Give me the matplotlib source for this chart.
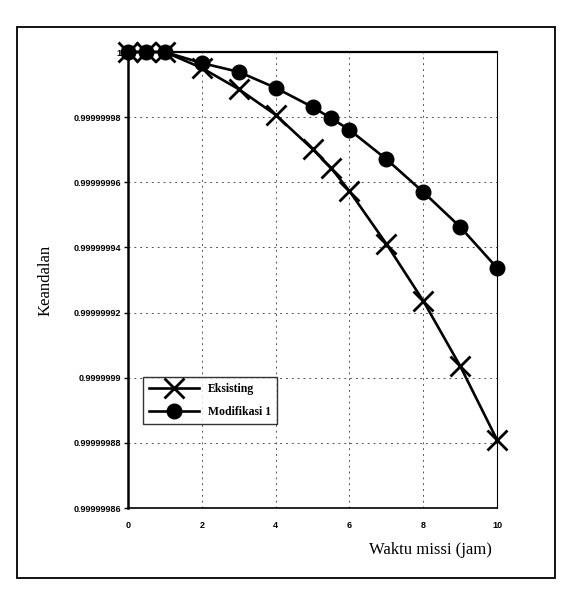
import matplotlib
matplotlib.use("Agg")
from matplotlib import pyplot as plt
from matplotlib.patches import Rectangle
from matplotlib.ticker import FuncFormatter

# waktu misi (jam)
waktu = [0, 0.5, 1, 2, 3, 4, 5, 5.5, 6, 7, 8, 9, 10]

# keandalan
eksisting = [1.0, 1.0, 1.0, 0.9999999951, 0.9999999886, 0.9999999807,
             0.9999999702, 0.9999999644, 0.9999999573, 0.9999999411,
             0.9999999236, 0.9999999036, 0.9999998809]
modifikasi1 = [1.0, 1.0, 1.0, 0.9999999966, 0.9999999939, 0.999999989,
               0.9999999831, 0.9999999797, 0.9999999761, 0.9999999671,
               0.999999957, 0.9999999463, 0.9999999337]

x_ticks = [0, 2, 4, 6, 8, 10]
y_ticks = [0.99999986, 0.99999988, 0.9999999, 0.99999992, 0.99999994,
           0.99999996, 0.99999998, 1.0]


def fmt_reliability(v, pos):
    s = "%.8f" % v
    s = s.rstrip("0").rstrip(".")
    return s


fig = plt.figure(figsize=(5.78, 5.89), dpi=100)
ax = fig.add_axes([0.2215, 0.1375, 0.6385, 0.7742])

ax.plot(waktu, eksisting, color="black", lw=1.9, marker="x", ms=15,
        mew=2.0, label="Eksisting", zorder=3, clip_on=False)
ax.plot(waktu, modifikasi1, color="black", lw=1.9, marker="o", ms=10.5,
        label="Modifikasi 1", zorder=3, clip_on=False)

ax.set_xlim(0, 10)
ax.set_ylim(0.99999986, 1.0)
ax.set_xticks(x_ticks)
ax.set_yticks(y_ticks)
ax.yaxis.set_major_formatter(FuncFormatter(fmt_reliability))
ax.grid(True, color="#555555", lw=0.7, linestyle=(0, (2, 4)))

for lab in ax.get_xticklabels() + ax.get_yticklabels():
    lab.set_family("Liberation Sans")
    lab.set_fontsize(6.5)
    lab.set_fontweight("bold")
ax.tick_params(axis="y", length=3, width=1, pad=2)
ax.tick_params(axis="x", length=0, pad=9)

ax.spines["left"].set_linewidth(1.8)
ax.spines["bottom"].set_linewidth(1.2)
ax.spines["top"].set_linewidth(1.6)
ax.spines["right"].set_linewidth(0.8)
ax.spines["right"].set_linestyle((0, (1, 1)))

ax.set_ylabel("Keandalan", family="Liberation Serif", fontsize=12,
              labelpad=14)
fig.text(0.745, 0.066, "Waktu missi (jam)", family="Liberation Serif",
         fontsize=12, ha="center", va="center")

leg = ax.legend(loc="upper left", bbox_to_anchor=(0.025, 0.3),
                frameon=True, fancybox=False, edgecolor="black",
                handlelength=4.2, borderpad=0.5, labelspacing=0.9,
                prop={"family": "Liberation Serif", "size": 8.5,
                      "weight": "bold"})
leg.get_frame().set_linewidth(1.0)

# outer chart-area border
fig.patches.append(Rectangle((0.0294, 0.0187), 0.931, 0.9355,
                             transform=fig.transFigure, fill=False,
                             edgecolor="black", lw=1.3))

fig.savefig("out.png", dpi=100)
